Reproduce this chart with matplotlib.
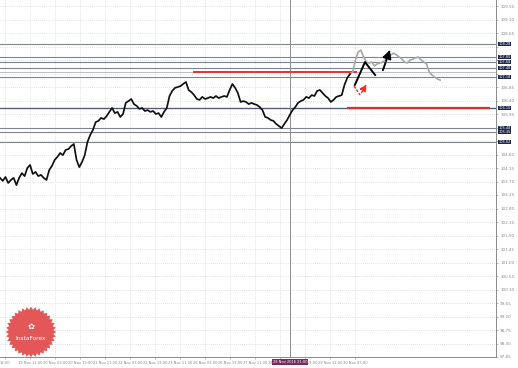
import numpy as np
import matplotlib
matplotlib.use("Agg")
import matplotlib.pyplot as plt
from matplotlib.patches import Polygon

# price path (equally spaced bars)
close_main = [103.82, 103.72, 103.85, 103.65, 103.75, 103.82, 103.58, 103.82, 103.98, 103.88,
              104.15, 104.25, 103.95, 104.02, 103.88, 103.92, 103.82, 103.75, 104.08, 104.22,
              104.42, 104.52, 104.65, 104.58, 104.75, 104.78, 104.88, 104.95, 104.42, 104.18,
              104.35, 104.58, 105.02, 105.25, 105.42, 105.68, 105.72, 105.82, 105.78, 105.88,
              106.02, 106.15, 105.98, 106.02, 105.85, 105.95, 106.32, 106.38, 106.45, 106.28,
              106.22, 106.12, 106.15, 106.05, 106.08, 106.02, 106.05, 105.95, 105.98, 105.85,
              106.02, 106.15, 106.55, 106.72, 106.82, 106.85, 106.88, 106.95, 107.02, 106.75,
              106.68, 106.58, 106.45, 106.42, 106.52, 106.45, 106.48, 106.52, 106.48, 106.55,
              106.48, 106.52, 106.55, 106.52, 106.75, 106.95, 106.82, 106.65, 106.35, 106.38,
              106.35, 106.28, 106.32, 106.28, 106.25, 106.18, 106.08, 105.85, 105.82, 105.75,
              105.72, 105.62, 105.55, 105.48, 105.62, 105.75, 105.92, 106.08, 106.18, 106.32,
              106.38, 106.42, 106.52, 106.48, 106.58, 106.55, 106.72, 106.75, 106.65, 106.55,
              106.48, 106.35, 106.42, 106.52, 106.55, 106.58, 106.92, 107.15, 107.28]

# later price path, shown faded
close_after = [107.35, 107.75, 108.02, 108.08, 107.85, 107.68, 107.65, 107.68, 107.55, 107.62,
               107.65, 107.68, 107.75, 107.85, 107.92, 107.98, 107.92, 107.85, 107.78, 107.68,
               107.65, 107.75, 107.78, 107.82, 107.85, 107.75, 107.68, 107.62, 107.35, 107.25,
               107.18, 107.12, 107.08]

level_prices = [108.28, 107.85, 107.68, 107.48, 107.18, 106.15, 105.48, 105.35, 105.02]
light_level = 107.35
red_upper = (107.35, 70.6, 130.6)   # price, start bar, end bar
red_lower = (106.15, 126.9, 179.2)

# hand-drawn forecast arrows (bar, price)
black_zig = [(129.8, 106.92), (133.5, 107.68), (137.2, 107.25)]
black_arrow = [(139.7, 107.32), (143.0, 108.18)]
red_zig = [(129.5, 106.88), (131.7, 106.58), (134.6, 107.02)]

time_labels = ["19:00", "19 Nov 11:00", "20 Nov 03:00", "20 Nov 19:00", "21 Nov 11:00",
               "22 Nov 03:00", "22 Nov 19:00", "23 Nov 11:00", "26 Nov 03:00", "26 Nov 19:00",
               "27 Nov 11:00", "28 Nov 03:00", "28 Nov 19:00", "29 Nov 11:00", "30 Nov 03:00"]
cursor_bar = 106.1
cursor_label = "28 Nov 2016 21:00"

px_per_bar = 2.734
label_step_bars = 25 / px_per_bar
y_ticks = 97.85 + 0.45 * np.arange(27)

fig = plt.figure(figsize=(5.18, 3.68), dpi=100)
ax = fig.add_axes([0, 11 / 368, 496 / 518, 357 / 368])
ax.set_xlim(0, 496 / px_per_bar)
ax.set_ylim(97.85, 109.75)

xt = 5 / px_per_bar + label_step_bars * np.arange(len(time_labels))
ax.set_xticks(xt)
ax.set_xticklabels(time_labels, fontsize=2.6, color="#444444")
ax.set_yticks(y_ticks)
# tick labels hidden behind the level boxes are left blank, as in the terminal
ylabels = [f"{v:.2f}" if min(abs(v - p) for p in level_prices) > 0.14 else ""
           for v in y_ticks]
ax.set_yticklabels(ylabels, fontsize=3.0, color="#666666")
ax.yaxis.tick_right()
ax.tick_params(length=1.5, width=0.4, pad=1.5, colors="#888888")
ax.grid(True, linestyle=(0, (1, 2)), color="#c9c9c9", linewidth=0.5)
for s in ["top", "left"]:
    ax.spines[s].set_visible(False)
for s in ["right", "bottom"]:
    ax.spines[s].set_color("#777777")
    ax.spines[s].set_linewidth(0.6)

# levels
for p in level_prices:
    ax.axhline(p, color="#7f838c", linewidth=0.8, zorder=2)
    ax.text(1.005, p, f"{p:.2f}", transform=ax.get_yaxis_transform(), fontsize=2.5,
            color="white", va="center", ha="left", clip_on=False, zorder=8,
            bbox=dict(boxstyle="square,pad=0.1", fc="#1f2a4d", ec="none"))
ax.axhline(level_prices[5], color="#4f5a78", linewidth=0.9, zorder=2)
ax.axhline(light_level, color="#b9bdc8", linewidth=0.7, zorder=2)
ax.hlines(red_upper[0], red_upper[1], red_upper[2], color="#e8322e", linewidth=1.4, zorder=3)
ax.hlines(red_lower[0], red_lower[1], red_lower[2], color="#d8302c", linewidth=1.6, zorder=3)

ax.axvline(cursor_bar, color="#8c8c8c", linewidth=0.7, zorder=2)

x_main = np.arange(len(close_main))
x_after = np.arange(len(close_after)) + len(close_main)
ax.plot(np.r_[x_main[-1], x_after], [close_main[-1]] + close_after,
        color="#a9a9a9", linewidth=1.2, zorder=4)
ax.plot(x_main, close_main, color="#111111", linewidth=1.25, zorder=5)

bx, by = zip(*black_zig)
ax.plot(bx, by, color="black", linewidth=1.4, zorder=6)
ax.annotate("", xy=black_arrow[1], xytext=black_arrow[0], zorder=6,
            arrowprops=dict(arrowstyle="-|>,head_length=0.5,head_width=0.25",
                            color="black", lw=1.4, linestyle=(0, (4, 1))))
rx, ry = zip(*red_zig[:2])
ax.plot(rx, ry, color="#e8322e", linewidth=1.0, linestyle=(0, (2, 1)), zorder=6)
ax.annotate("", xy=red_zig[2], xytext=red_zig[1], zorder=6,
            arrowprops=dict(arrowstyle="-|>,head_length=0.4,head_width=0.2",
                            color="#e8322e", lw=1.0, linestyle=(0, (2, 1))))

# cursor time box
ax.text(cursor_bar, -0.008, cursor_label, transform=ax.get_xaxis_transform(),
        fontsize=2.6, color="white", ha="center", va="top",
        bbox=dict(boxstyle="square,pad=0.3", fc="#7b2a5e", ec="none"), zorder=10)

# logo
lax = fig.add_axes([5 / 518, 10 / 368, 52 / 518, 52 / 368])
lax.set_xlim(-1, 1)
lax.set_ylim(-1, 1)
lax.set_aspect("equal")
lax.axis("off")
ang = np.linspace(0, 2 * np.pi, 73)
rad = np.where(np.arange(73) % 2 == 0, 0.97, 0.86)
lax.add_patch(Polygon(np.c_[rad * np.cos(ang), rad * np.sin(ang)], closed=True,
                      fc="#e2494b", ec="none", alpha=0.92))
lax.text(0, -0.25, "InstaForex", fontsize=4.2, color="white", ha="center", va="center")
lax.text(0, 0.22, "✿", fontsize=6, color="white", ha="center", va="center")

fig.savefig("out.png", dpi=100, facecolor="white")
